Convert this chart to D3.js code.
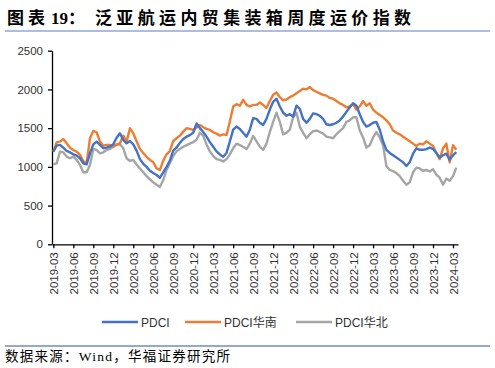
<!DOCTYPE html>
<html>
<head>
<meta charset="utf-8">
<script src="https://cdn.jsdelivr.net/npm/d3@7"></script>
<style>
  body { margin: 0; background: #fff; }
  svg { display: block; }
</style>
</head>
<body>
<div id="chart"></div>
<script>
// half-month readings, starting 2019-03
const seriesNames = ["PDCI", "PDCI华南", "PDCI华北"];
const seriesColors = ["#4472C4", "#ED7D31", "#A5A5A5"];

const pdci = [
  1197, 1274, 1283, 1248, 1205, 1188, 1162, 1145, 1111, 1046,
  1033, 1175, 1291, 1326, 1283, 1240, 1248, 1261, 1291, 1377,
  1433, 1347, 1304, 1334, 1291, 1210, 1100, 1040, 1000, 950,
  920, 895, 860, 930, 1000, 1080, 1210, 1250, 1310, 1360,
  1390, 1410, 1440, 1560, 1500, 1450, 1390, 1320, 1260, 1200,
  1160, 1130, 1180, 1330, 1480, 1520, 1490, 1440, 1390, 1480,
  1630, 1620, 1570, 1540, 1620, 1740, 1840, 1880, 1780, 1700,
  1660, 1680, 1650, 1790, 1750, 1620, 1570, 1620, 1690, 1680,
  1660, 1620, 1550, 1540, 1550, 1570, 1600, 1650, 1710, 1770,
  1820, 1790, 1680, 1580, 1520, 1540, 1570, 1580, 1480, 1330,
  1220, 1180, 1150, 1120, 1090, 1060, 1010, 1060, 1170, 1240,
  1220, 1220, 1230, 1250, 1230, 1180, 1120, 1150, 1170, 1090,
  1150, 1190
];

const pdciSouth = [
  1197, 1317, 1326, 1360, 1304, 1248, 1218, 1197, 1154, 1076,
  1046, 1369, 1464, 1447, 1326, 1274, 1283, 1283, 1261, 1291,
  1304, 1403, 1326, 1499, 1433, 1330, 1230, 1180, 1130, 1090,
  1060, 980, 960, 1080, 1162, 1205, 1334, 1369, 1403, 1455,
  1499, 1490, 1477, 1507, 1542, 1512, 1490, 1477, 1447, 1429,
  1403, 1420, 1412, 1585, 1779, 1809, 1791, 1865, 1800, 1779,
  1800, 1800, 1830, 1800, 1760, 1850, 1930, 1960, 1900, 1860,
  1870, 1900, 1920, 1950, 1980, 2010, 2000, 2030, 1990, 1970,
  1950, 1930, 1920, 1890, 1880, 1850, 1820, 1800, 1770, 1780,
  1810, 1740, 1780, 1850, 1790, 1820, 1740, 1700, 1670, 1640,
  1600, 1550, 1470, 1440, 1420, 1390, 1360, 1330, 1300, 1270,
  1300, 1290, 1330, 1300, 1270, 1180, 1100, 1240, 1300, 1060,
  1280, 1220
];

const pdciNorth = [
  1033, 1046, 1197, 1188, 1132, 1111, 1132, 1089, 1025, 930,
  930, 1025, 1231, 1218, 1175, 1188, 1218, 1231, 1261, 1283,
  1291, 1240, 1111, 1076, 1089, 1030, 980, 930, 880, 840,
  800, 770, 740, 830, 960, 1050, 1140, 1200, 1230, 1260,
  1280, 1300, 1320, 1350, 1440, 1400, 1290, 1200, 1140, 1100,
  1090, 1070, 1100, 1160, 1240, 1300, 1280, 1260, 1230, 1300,
  1400, 1330, 1260, 1220, 1300, 1450, 1580, 1700, 1580, 1420,
  1440, 1480, 1640, 1700, 1520, 1440, 1370, 1420, 1460, 1470,
  1450, 1430, 1390, 1380, 1370, 1420, 1460, 1500, 1580, 1600,
  1640, 1640, 1470, 1380, 1250, 1280, 1380, 1450, 1380, 1280,
  1010, 960, 945, 920, 880, 820, 770, 800, 930, 990,
  980, 950, 960, 940, 970, 900, 860, 770, 850, 820,
  880, 990
];

const tickLabels = [
  "2019-03", "2019-06", "2019-09", "2019-12",
  "2020-03", "2020-06", "2020-09", "2020-12",
  "2021-03", "2021-06", "2021-09", "2021-12",
  "2022-03", "2022-06", "2022-09", "2022-12",
  "2023-03", "2023-06", "2023-09", "2023-12",
  "2024-03"
];
const yTicks = [0, 500, 1000, 1500, 2000, 2500];

const W = 495, H = 368;
const cjk = "'Noto Sans CJK SC', sans-serif";

var svg = d3.select("#chart").append("svg")
    .attr("width", W)
    .attr("height", H);

// title, in three pieces so "19" stays tight
var titleFont = "'Liberation Serif', " + cjk;
function titlePart(x0, txt, len) {
    var t = svg.append("text")
        .attr("x", x0).attr("y", 24)
        .style("font-family", titleFont)
        .style("font-weight", "bold")
        .style("font-size", "17px")
        .style("fill", "#000")
        .text(txt);
    if (len) t.attr("textLength", len).attr("lengthAdjust", "spacing");
}
titlePart(7, "图表", 38);
titlePart(51, "19：", null);
titlePart(95, "泛亚航运内贸集装箱周度运价指数", 316);
svg.append("line")
    .attr("x1", 5).attr("x2", 490).attr("y1", 31).attr("y2", 31)
    .style("stroke", "#8fa9d8").style("stroke-width", 1.5);

// scales (x in months since 2019-03)
var x = d3.scaleLinear().domain([-0.2, 60.75]).range([52, 458]);
var y = d3.scaleLinear().domain([0, 2500]).range([244.3, 50.7]);

var xAxis = svg.append("g")
    .attr("transform", "translate(0," + y(0) + ")")
    .call(d3.axisBottom(x)
        .tickValues(d3.range(0, 61, 3))
        .tickFormat((d, i) => tickLabels[i])
        .tickSize(4).tickSizeOuter(0));
xAxis.selectAll("text")
    .attr("transform", "rotate(-90)")
    .attr("x", -8).attr("y", 0)
    .attr("dy", "0.35em")
    .attr("text-anchor", "end");

var yAxis = svg.append("g")
    .attr("transform", "translate(" + x.range()[0] + ",0)")
    .call(d3.axisLeft(y).tickValues(yTicks).tickFormat(d3.format("d"))
        .tickSize(4).tickSizeOuter(0).tickPadding(5));

svg.selectAll(".tick text")
    .style("font-family", "'Liberation Sans', Arial, sans-serif")
    .style("font-size", "11.5px")
    .style("fill", "#333");
svg.selectAll(".domain, .tick line")
    .style("stroke", "#000").style("stroke-width", 1.3);

// lines
var line = d3.line()
    .x((d, i) => x(i / 2))
    .y(d => y(d));

var allSeries = [pdci, pdciSouth, pdciNorth];
var drawOrder = [2, 1, 0];
drawOrder.forEach(function(s) {
    svg.append("path")
        .datum(allSeries[s])
        .attr("d", line)
        .style("fill", "none")
        .style("stroke", seriesColors[s])
        .style("stroke-width", 2.4)
        .style("stroke-linejoin", "round");
});

// legend
var legendX = [102, 185, 296];
var legend = svg.selectAll(".legend")
    .data(seriesNames)
    .enter().append("g")
    .attr("class", "legend")
    .attr("transform", (d, i) => "translate(" + legendX[i] + ",322)");
legend.append("line")
    .attr("x1", 0).attr("x2", 36).attr("y1", 0).attr("y2", 0)
    .style("stroke", (d, i) => seriesColors[i])
    .style("stroke-width", 2.4);
legend.append("text")
    .attr("x", 39).attr("y", 4.5)
    .style("font-family", "'Liberation Sans Narrow', 'Liberation Sans', " + cjk)
    .style("font-size", "12px")
    .style("fill", "#333")
    .text(d => d);

// source note
svg.append("line")
    .attr("x1", 5).attr("x2", 490).attr("y1", 346).attr("y2", 346)
    .style("stroke", "#2f5597").style("stroke-width", 1.2);
svg.append("text")
    .attr("x", 5).attr("y", 361)
    .attr("textLength", 225)
    .attr("lengthAdjust", "spacing")
    .style("font-family", "'Liberation Serif', " + cjk)
    .style("font-size", "13.5px")
    .style("fill", "#000")
    .text("数据来源：Wind，华福证券研究所");
</script>
</body>
</html>
